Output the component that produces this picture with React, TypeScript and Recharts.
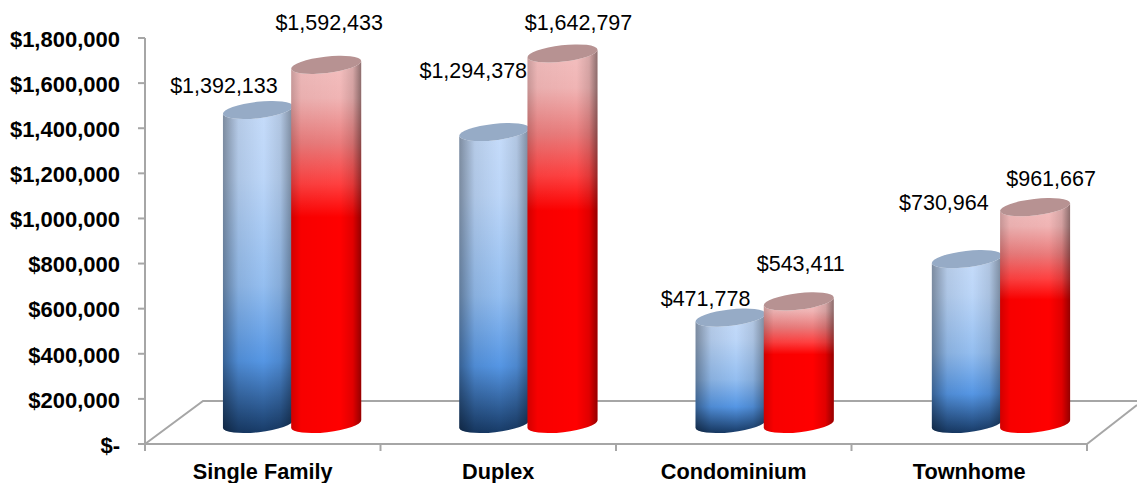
import { BarChart, Bar, XAxis, YAxis, LabelList } from "recharts";

const categories = ["Single Family", "Duplex", "Condominium", "Townhome"];
const blueValues = [1392133, 1294378, 471778, 730964];
const redValues = [1592433, 1642797, 543411, 961667];
const yTicks = [0, 200000, 400000, 600000, 800000, 1000000, 1200000, 1400000, 1600000, 1800000];

// data labels were dragged by hand in the original, so each has its own nudge
const blueLabelOffsets = [[-34, -25], [-21, -62], [-25, -19], [-23, -57]];
const redLabelOffsets = [[3, -42], [16, -31], [2, -38], [16, -29]];

const chartData = categories.map((name, i) => ({
  name,
  blue: blueValues[i],
  red: redValues[i],
}));

const WIDTH = 1137;
const HEIGHT = 483;
const X_AXIS_HEIGHT = 39;
const MARGIN = { top: 38, right: 50, bottom: 0, left: 0 };
const PLOT_LEFT = 145;
const PLOT_RIGHT = WIDTH - MARGIN.right;
const PLOT_BOTTOM = HEIGHT - X_AXIS_HEIGHT;

// fake 3d: bars stand forward on the floor, right of the band centre and
// spread a touch wider than the axis bands
const SPREAD = 1.0034;
const SHIFT_X = 28.3;
const BASE_LIFT = 20;
const TILT = 4;
const CAP_RY = 8.2;

const AXIS_COLOR = "#a6a6a6";
const FONT = "'Liberation Sans', Arial, sans-serif";

function formatMoney(v: number) {
  return v === 0 ? "$-" : "$" + v.toLocaleString("en-US");
}

function Cylinder(props: any) {
  const { x, y, width, height, tone } = props;
  const rx = Math.hypot(width / 2, TILT);
  const angle = (Math.atan2(-TILT, width / 2) * 180) / Math.PI;
  const left = x * SPREAD + SHIFT_X;
  const right = left + width;
  const base = y + height - BASE_LIFT;
  const top = y - BASE_LIFT;
  const body = `M${left} ${top + TILT} L${left} ${base + TILT} A${rx} ${CAP_RY} ${angle} 0 0 ${right} ${base - TILT} L${right} ${top - TILT} A${rx} ${CAP_RY} ${angle} 0 1 ${left} ${top + TILT} Z`;
  const cx = left + width / 2;
  return (
    <g>
      <path d={body} fill={`url(#${tone}Body)`} />
      <path d={body} fill={`url(#${tone}Edge)`} />
      <ellipse
        cx={cx}
        cy={top}
        rx={rx}
        ry={CAP_RY}
        transform={`rotate(${angle} ${cx} ${top})`}
        fill={tone === "blue" ? "#96abc6" : "#b79292"}
      />
    </g>
  );
}

function ValueLabel(props: any, offsets: number[][]) {
  const { x, y, width, value, index } = props;
  const [dx, dy] = offsets[index];
  return (
    <text
      x={x * SPREAD + SHIFT_X + width / 2 + dx}
      y={y - BASE_LIFT + dy}
      dy="0.35em"
      textAnchor="middle"
      fontFamily={FONT}
      fontSize={21.5}
      fill="#000"
    >
      {formatMoney(value)}
    </text>
  );
}

function Floor() {
  const back = 401;
  const depthX = 58;
  const band = (PLOT_RIGHT - PLOT_LEFT) / categories.length;
  const marks = [0, 1, 2, 3, 4].map((i) => PLOT_LEFT + band * i);
  return (
    <g stroke={AXIS_COLOR} strokeWidth={2} fill="none">
      <path d={`M${PLOT_LEFT} ${PLOT_BOTTOM} L${PLOT_LEFT + depthX} ${back} L${WIDTH} ${back}`} />
      <path d={`M${PLOT_RIGHT} ${PLOT_BOTTOM} L${WIDTH} ${back + 4}`} />
      {marks.map((m) => (
        <line key={m} x1={m} x2={m} y1={PLOT_BOTTOM} y2={PLOT_BOTTOM + 7} />
      ))}
    </g>
  );
}

export default function App() {
  return (
    <div style={{ position: "absolute", left: 0, top: 0, width: WIDTH, height: HEIGHT }}>
      <BarChart
        width={WIDTH}
        height={HEIGHT}
        data={chartData}
        margin={MARGIN}
        barSize={70}
        barGap={-2}
      >
        <defs>
          <linearGradient id="blueBody" x1="0" y1="0" x2="0" y2="1">
            <stop offset="0%" stopColor="#c6dcfa" />
            <stop offset="22%" stopColor="#bcd6f8" />
            <stop offset="55%" stopColor="#94bef0" />
            <stop offset="78%" stopColor="#5596e4" />
            <stop offset="100%" stopColor="#173a66" />
          </linearGradient>
          <linearGradient id="redBody" x1="0" y1="0" x2="0" y2="1">
            <stop offset="0%" stopColor="#f3c0c0" />
            <stop offset="10%" stopColor="#f0b4b4" />
            <stop offset="22%" stopColor="#ea7c7c" />
            <stop offset="33%" stopColor="#ff4040" />
            <stop offset="42%" stopColor="#ff0000" />
            <stop offset="100%" stopColor="#ff0000" />
          </linearGradient>
          <linearGradient id="blueEdge" x1="0" y1="0" x2="1" y2="0">
            <stop offset="0%" stopColor="#000" stopOpacity={0.36} />
            <stop offset="22%" stopColor="#000" stopOpacity={0.08} />
            <stop offset="58%" stopColor="#000" stopOpacity={0} />
            <stop offset="82%" stopColor="#000" stopOpacity={0.1} />
            <stop offset="100%" stopColor="#000" stopOpacity={0.38} />
          </linearGradient>
          <linearGradient id="redEdge" x1="0" y1="0" x2="1" y2="0">
            <stop offset="0%" stopColor="#000" stopOpacity={0.18} />
            <stop offset="14%" stopColor="#000" stopOpacity={0.03} />
            <stop offset="70%" stopColor="#000" stopOpacity={0} />
            <stop offset="88%" stopColor="#000" stopOpacity={0.12} />
            <stop offset="100%" stopColor="#000" stopOpacity={0.42} />
          </linearGradient>
        </defs>
        <Floor />
        <XAxis
          dataKey="name"
          height={X_AXIS_HEIGHT}
          axisLine={{ stroke: AXIS_COLOR, strokeWidth: 2 }}
          tickLine={false}
          interval={0}
          tickMargin={14}
          tick={{ fontFamily: FONT, fontSize: 21.7, fontWeight: 700, fill: "#000" }}
        />
        <YAxis
          width={PLOT_LEFT}
          domain={[0, 1800000]}
          ticks={yTicks}
          tickFormatter={formatMoney}
          axisLine={{ stroke: AXIS_COLOR, strokeWidth: 2 }}
          tickLine={{ stroke: AXIS_COLOR, strokeWidth: 2 }}
          tickSize={7}
          tickMargin={18}
          interval={0}
          tick={{ fontFamily: FONT, fontSize: 22, fontWeight: 700, fill: "#000", dy: 1 }}
        />
        <Bar
          dataKey="blue"
          isAnimationActive={false}
          shape={(p: any) => <Cylinder {...p} tone="blue" />}
        >
          <LabelList dataKey="blue" content={(p: any) => ValueLabel(p, blueLabelOffsets)} />
        </Bar>
        <Bar
          dataKey="red"
          isAnimationActive={false}
          shape={(p: any) => <Cylinder {...p} tone="red" />}
        >
          <LabelList dataKey="red" content={(p: any) => ValueLabel(p, redLabelOffsets)} />
        </Bar>
      </BarChart>
    </div>
  );
}
